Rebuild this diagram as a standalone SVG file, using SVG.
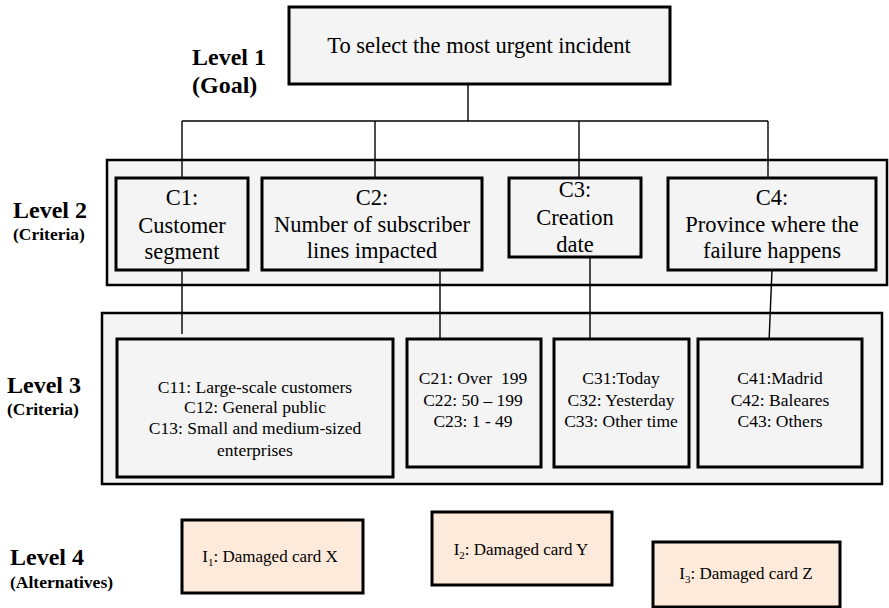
<svg xmlns="http://www.w3.org/2000/svg" width="889" height="608" viewBox="0 0 889 608">
<style>
  .box { fill: #f4f4f4; stroke: #000; stroke-width: 3; }
  .alt { fill: #fdeada; stroke: #000; stroke-width: 3; }
  .frame { fill: #f4f4f4; stroke: #000; stroke-width: 2.5; }
  .conn line { stroke: #000; stroke-width: 1.4; }
  text { font-family: "Liberation Serif", "Times New Roman", serif; fill: #000; }
  .t { text-anchor: middle; }
  .l2 { font-size: 22.5px; }
  .l3 { font-size: 17.5px; }
  .l4 { font-size: 17px; }
  .lvl { font-weight: bold; }
  .big { font-size: 24px; }
  .small { font-size: 17.5px; }
</style>
<rect width="889" height="608" fill="#ffffff"/>

<g id="frame-level2"><rect class="frame" x="107" y="160" width="780" height="125"/></g>
<g id="frame-level3"><rect class="frame" x="102" y="313" width="780" height="171"/></g>

<g id="connectors" class="conn">
  <line x1="468" y1="84" x2="468" y2="121"/>
  <line x1="182" y1="121" x2="768" y2="121"/>
  <line x1="182" y1="121" x2="182" y2="178"/>
  <line x1="375" y1="121" x2="375" y2="178"/>
  <line x1="579" y1="121" x2="579" y2="178"/>
  <line x1="768" y1="121" x2="768" y2="178"/>
  <line x1="182" y1="270" x2="182" y2="334"/>
  <line x1="440" y1="270" x2="440" y2="342"/>
  <line x1="590" y1="257" x2="590" y2="342"/>
  <line x1="772" y1="270" x2="769" y2="342"/>
</g>

<g id="label-level1">
  <text class="lvl big" x="192" y="65">Level 1</text>
  <text class="lvl big" x="192" y="93">(Goal)</text>
</g>
<g id="label-level2">
  <text class="lvl big" x="13" y="218">Level 2</text>
  <text class="lvl small" x="13" y="240">(Criteria)</text>
</g>
<g id="label-level3">
  <text class="lvl big" x="7" y="393">Level 3</text>
  <text class="lvl small" x="7" y="415">(Criteria)</text>
</g>
<g id="label-level4">
  <text class="lvl big" x="10" y="565">Level 4</text>
  <text class="lvl small" x="10" y="588">(Alternatives)</text>
</g>

<g id="goal">
  <rect class="box" x="289" y="7" width="381" height="77"/>
  <text class="t l2" x="479" y="53">To select the most urgent incident</text>
</g>

<g id="c1">
  <rect class="box" x="116" y="178" width="132" height="92"/>
  <text class="t l2" x="182" y="205">C1:</text>
  <text class="t l2" x="182" y="233">Customer</text>
  <text class="t l2" x="182" y="259">segment</text>
</g>
<g id="c2">
  <rect class="box" x="262" y="178" width="220" height="92"/>
  <text class="t l2" x="372" y="205">C2:</text>
  <text class="t l2" x="372" y="232">Number of subscriber</text>
  <text class="t l2" x="372" y="258">lines impacted</text>
</g>
<g id="c3">
  <rect class="box" x="509" y="178" width="132" height="79"/>
  <text class="t l2" x="575" y="197">C3:</text>
  <text class="t l2" x="575" y="225">Creation</text>
  <text class="t l2" x="575" y="252">date</text>
</g>
<g id="c4">
  <rect class="box" x="668" y="178" width="208" height="92"/>
  <text class="t l2" x="772" y="205">C4:</text>
  <text class="t l2" x="772" y="232">Province where the</text>
  <text class="t l2" x="772" y="258">failure happens</text>
</g>

<g id="c1x">
  <rect class="box" x="117" y="339" width="276" height="138"/>
  <text class="t l3" x="255" y="393">C11: Large-scale customers</text>
  <text class="t l3" x="255" y="413">C12: General public</text>
  <text class="t l3" x="255" y="434">C13: Small and medium-sized</text>
  <text class="t l3" x="255" y="456">enterprises</text>
</g>
<g id="c2x">
  <rect class="box" x="407" y="339" width="134" height="128"/>
  <text class="t l3" x="473" y="384" xml:space="preserve">C21: Over  199</text>
  <text class="t l3" x="473" y="406">C22: 50 – 199</text>
  <text class="t l3" x="473" y="427">C23: 1 - 49</text>
</g>
<g id="c3x">
  <rect class="box" x="554" y="339" width="135" height="128"/>
  <text class="t l3" x="621" y="384">C31:Today</text>
  <text class="t l3" x="621" y="406">C32: Yesterday</text>
  <text class="t l3" x="621" y="427">C33: Other time</text>
</g>
<g id="c4x">
  <rect class="box" x="698" y="339" width="164" height="128"/>
  <text class="t l3" x="780" y="384">C41:Madrid</text>
  <text class="t l3" x="780" y="406">C42: Baleares</text>
  <text class="t l3" x="780" y="427">C43: Others</text>
</g>

<g id="i1">
  <rect class="alt" x="182" y="520" width="181" height="73"/>
  <text class="t l4" x="270" y="562">I<tspan font-size="11" dy="4">1</tspan><tspan dy="-4">: Damaged card X</tspan></text>
</g>
<g id="i2">
  <rect class="alt" x="432" y="512" width="180" height="73"/>
  <text class="t l4" x="521" y="555">I<tspan font-size="11" dy="4">2</tspan><tspan dy="-4">: Damaged card Y</tspan></text>
</g>
<g id="i3">
  <rect class="alt" x="653" y="542" width="187" height="65"/>
  <text class="t l4" x="746" y="579">I<tspan font-size="11" dy="4">3</tspan><tspan dy="-4">: Damaged card Z</tspan></text>
</g>
</svg>
